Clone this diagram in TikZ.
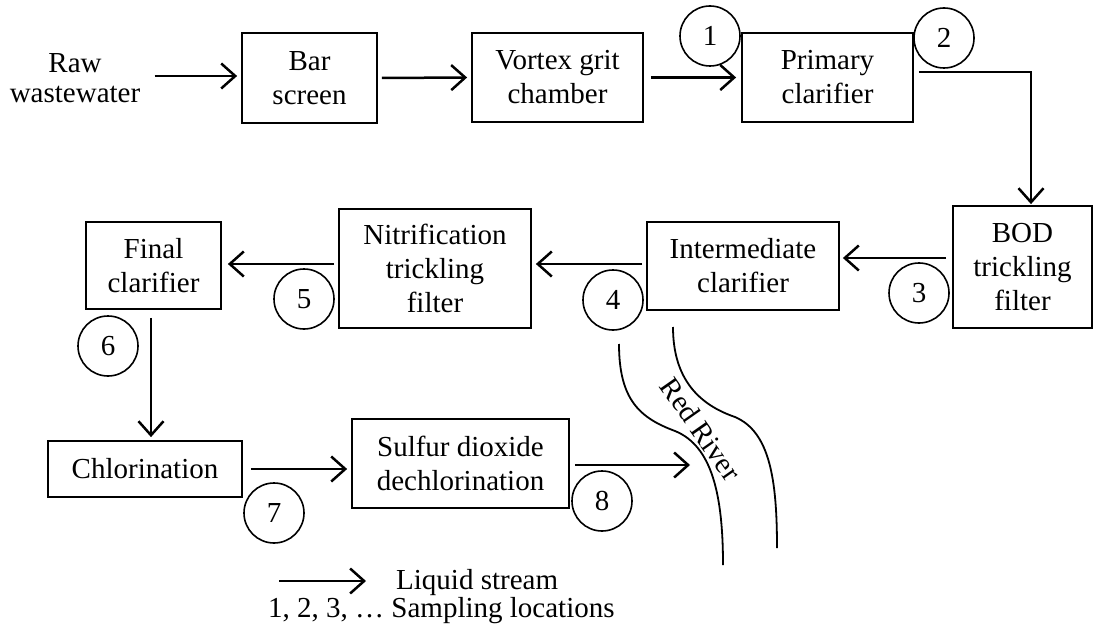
\documentclass[tikz,border=0pt]{standalone}
\usepackage{fontspec}
\setmainfont{Liberation Serif}
\usetikzlibrary{arrows.meta,calc}
\begin{document}
\begin{tikzpicture}[x=1pt,y=-1pt,
  every node/.style={font=\fontsize{29}{34}\selectfont},
  box/.style={draw,line width=1.8pt,inner sep=0pt,align=center},
  num/.style={draw,circle,line width=1.6pt,minimum size=60pt,inner sep=0pt},
  arr/.style={line width=2.5pt,-{Straight Barb[length=14pt,width=25pt]}},
  river/.style={line width=1.8pt}]
\useasboundingbox (0,0) rectangle (1094,639);

% process boxes
\node[align=center,font=\fontsize{29}{30}\selectfont] (raw) at (75,78) {Raw\\wastewater};
\node[box,minimum width=135pt,minimum height=90pt] (bar) at (309.5,78) {Bar\\screen};
\node[box,minimum width=171pt,minimum height=89pt] (vor) at (557.5,77.5) {Vortex grit\\chamber};
\node[box,minimum width=171pt,minimum height=89pt] (pri) at (827.5,77.5) {Primary\\clarifier};
\node[box,minimum width=139pt,minimum height=122pt] (bod) at (1022.5,267) {BOD\\trickling\\filter};
\node[box,minimum width=192pt,minimum height=88pt] (int) at (743,266) {Intermediate\\clarifier};
\node[box,minimum width=192pt,minimum height=119pt] (nit) at (435,268.5) {Nitrification\\trickling\\filter};
\node[box,minimum width=135pt,minimum height=87pt] (fin) at (153.5,265.5) {Final\\clarifier};
\node[box,minimum width=194pt,minimum height=56pt] (chl) at (145,469) {Chlorination};
\node[box,minimum width=217pt,minimum height=89pt] (sul) at (460.5,463.5) {Sulfur dioxide\\dechlorination};

% sampling locations
\node[num] (n1) at (710,36) {1};
\node[num] (n2) at (944,38) {2};
\node[num] (n3) at (919,293) {3};
\node[num] (n4) at (613,300) {4};
\node[num] (n5) at (304,299) {5};
\node[num] (n6) at (108,346) {6};
\node[num] (n7) at (274,513) {7};
\node[num] (n8) at (602,501) {8};

% river
\draw[river] (619,344) .. controls (619,400) and (640,418) .. (675,431)
             .. controls (712,446) and (723,495) .. (723,565);
\draw[river] (673,327) .. controls (673,380) and (700,405) .. (735,417)
             .. controls (770,432) and (777,480) .. (777,548);
\node[rotate=-55,inner sep=0pt] (rr) at (701,429) {Red River};
\coordinate (rin) at (690,465);

% connectors
\draw[arr] ([xshift=11pt,yshift=2pt]raw.east) -- ([xshift=-4pt,yshift=2pt]bar.west);
\draw[arr] ([xshift=4pt]bar.east) -- ([xshift=-4pt]vor.west);
\draw[arr] ([xshift=7pt]vor.east) -- ([xshift=-5pt]pri.west);
\draw[arr] ([xshift=5pt,yshift=5.5pt]pri.east) -| ([xshift=8.5pt,yshift=1pt]bod.north);
\draw[arr] ([xshift=-6pt,yshift=9pt]bod.west) -- ([xshift=3pt,yshift=8pt]int.east);
\draw[arr] ([xshift=-4pt,yshift=2pt]int.west) -- ([xshift=4pt,yshift=4.5pt]nit.east);
\draw[arr] ([xshift=-4pt,yshift=4.5pt]nit.west) -- ([xshift=6pt,yshift=1.5pt]fin.east);
\draw[arr] ([xshift=-2.5pt,yshift=-8pt]fin.south) -- ([xshift=6pt,yshift=3pt]chl.north);
\draw[arr] ([xshift=8pt]chl.east) -- ([xshift=-4pt,yshift=-5.5pt]sul.west);
\draw[arr] ([xshift=5pt,yshift=-1.5pt]sul.east) -- (rin);

% legend
\coordinate (la) at (279,581);
\coordinate (lb) at (366,581);
\draw[arr] (la) -- (lb);
\node[anchor=base west,inner sep=0pt] (lt1) at (396,589) {Liquid stream};
\node[anchor=base west,inner sep=0pt] (lt2) at (268,617) {1, 2, 3, … Sampling locations};
\end{tikzpicture}
\end{document}
